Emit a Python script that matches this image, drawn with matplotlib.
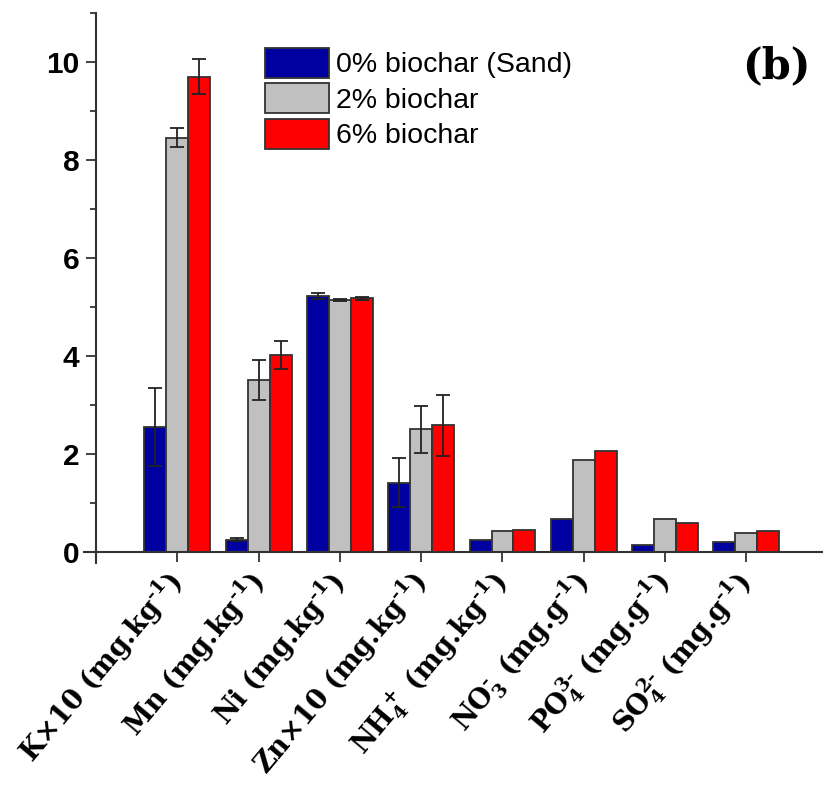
import numpy as np
import matplotlib
matplotlib.use("Agg")
import matplotlib.pyplot as plt
from matplotlib.ticker import MultipleLocator

plt.rcParams['mathtext.fontset'] = 'dejavuserif'
plt.rcParams['mathtext.default'] = 'bf'

H_ = '\u2010'
categories = ['K×10 (mg.kg$^{' + H_ + '1}$)', 'Mn (mg.kg$^{' + H_ + '1}$)',
              'Ni (mg.kg$^{' + H_ + '1}$)', 'Zn×10 (mg.kg$^{' + H_ + '1}$)',
              'NH$_4^+$ (mg.kg$^{' + H_ + '1}$)', 'NO$_3^{' + H_ + '}$ (mg.g$^{' + H_ + '1}$)',
              'PO$_4^{3' + H_ + '}$ (mg.g$^{' + H_ + '1}$)', 'SO$_4^{2' + H_ + '}$ (mg.g$^{' + H_ + '1}$)']
series_names = ['0% biochar (Sand)', '2% biochar', '6% biochar']
sand = [2.56, 0.25, 5.22, 1.42, 0.24, 0.67, 0.14, 0.20]
bio2 = [8.46, 3.51, 5.15, 2.51, 0.43, 1.88, 0.67, 0.39]
bio6 = [9.70, 4.02, 5.18, 2.59, 0.46, 2.06, 0.60, 0.43]
sand_err = [0.80, 0.03, 0.06, 0.50, np.nan, np.nan, np.nan, np.nan]
bio2_err = [0.20, 0.41, 0.02, 0.48, np.nan, np.nan, np.nan, np.nan]
bio6_err = [0.36, 0.29, 0.03, 0.62, np.nan, np.nan, np.nan, np.nan]
colors = ['#0000A0', '#C0C0C0', '#FF0000']

W, H = 823, 797
fig = plt.figure(figsize=(W / 100, H / 100), dpi=100)
ax = fig.add_axes([83.8 / W, (H - 563) / H, (W - 83.8) / W, 550 / H])

x = np.arange(1, len(categories) + 1)
bw = 0.27
edge = '#333333'
for i, (vals, errs) in enumerate(zip([sand, bio2, bio6], [sand_err, bio2_err, bio6_err])):
    pos = x + (i - 1) * bw
    ax.bar(pos, vals, width=bw, color=colors[i], edgecolor=edge, linewidth=1.3,
           label=series_names[i], zorder=2)
    ax.errorbar(pos, vals, yerr=errs, fmt='none', ecolor='#222222', elinewidth=1.3,
                capsize=4.9, capthick=1.3, zorder=3)

ax.set_xlim(-0.15, (W - 83.8) / 81.3 - 0.15)
ax.set_ylim(-0.22, 11)
ax.spines['left'].set_position(('data', 0))
ax.spines['bottom'].set_position(('data', 0))
for s in ['top', 'right']:
    ax.spines[s].set_visible(False)
for s in ['left', 'bottom']:
    ax.spines[s].set_color('#333333')
    ax.spines[s].set_linewidth(1.5)

ax.yaxis.set_major_locator(MultipleLocator(2))
ax.yaxis.set_minor_locator(MultipleLocator(1))
ax.tick_params(axis='y', which='major', length=7, width=1.3, color='#333333', pad=5,
               labelsize=21.5)
ax.tick_params(axis='y', which='minor', length=4.5, width=1.3, color='#333333')
for lab in ax.get_yticklabels():
    lab.set_fontfamily('Liberation Sans')
    lab.set_fontweight('bold')

ax.set_xticks(x)
ax.set_xticklabels(categories, rotation=50, ha='right', va='center',
                   rotation_mode='anchor', fontfamily='DejaVu Serif',
                   fontweight='bold', fontsize=19.5)
ax.tick_params(axis='x', which='major', length=7, width=1.3, color='#333333', pad=11)

leg = ax.legend(loc='upper left', bbox_to_anchor=(265 / W, 1 - 48 / H),
                bbox_transform=fig.transFigure, frameon=False, borderpad=0,
                borderaxespad=0, handlelength=2.25, handleheight=1.22,
                handletextpad=0.25, labelspacing=0.18,
                prop={'family': 'Liberation Sans', 'size': 20.5})

fig.text(811 / W, 1 - 66 / H, '(b)', ha='right', va='center',
         fontfamily='DejaVu Serif', fontweight='bold', fontsize=30)

fig.savefig('out.png', dpi=100)
